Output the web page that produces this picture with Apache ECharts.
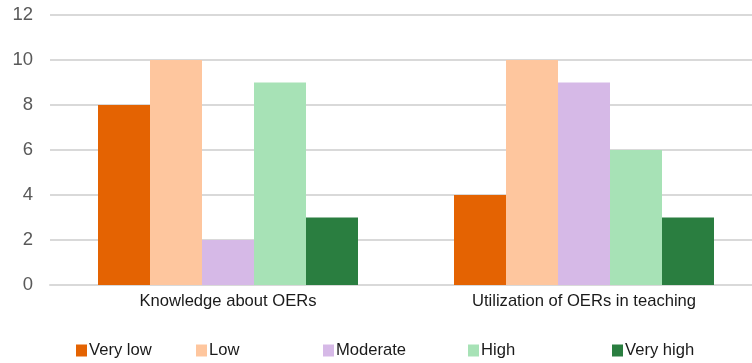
<!DOCTYPE html>
<html>
<head>
<meta charset="utf-8">
<script src="https://cdn.jsdelivr.net/npm/echarts@6/dist/echarts.min.js"></script>
<style>
  html, body { margin: 0; padding: 0; background: #fff; }
  #chart { width: 752px; height: 363px; }
</style>
</head>
<body>
<div id="chart"></div>
<script>
// Survey results: self-rated level of OER knowledge and use
const categories = ['Knowledge about OERs', 'Utilization of OERs in teaching'];
const levels = ['Very low', 'Low', 'Moderate', 'High', 'Very high'];
const veryLow = [8, 4];
const low = [10, 10];
const moderate = [2, 9];
const high = [9, 6];
const veryHigh = [3, 3];
const yTicks = [0, 2, 4, 6, 8, 10, 12];

const seriesValues = [veryLow, low, moderate, high, veryHigh];
const colors = ['#E46302', '#FEC69E', '#D6B9E7', '#A7E2B6', '#2A7E40'];
const legendLeft = [71, 191, 318, 463, 607];

const chart = echarts.init(document.getElementById('chart'));
chart.setOption({
  animation: false,
  textStyle: { fontFamily: 'Liberation Sans, Arial, sans-serif' },
  grid: {
    left: 50, width: 712, top: 15, bottom: 78,
    containLabel: false, outerBoundsMode: 'none'
  },
  xAxis: {
    type: 'category',
    data: categories,
    axisLine: { lineStyle: { color: '#D9D9D9', width: 2 } },
    axisTick: { show: false },
    axisLabel: { color: '#1a1a1a', fontSize: 16.6, margin: 8 }
  },
  yAxis: {
    type: 'value',
    min: yTicks[0],
    max: yTicks[yTicks.length - 1],
    interval: 2,
    axisLine: { show: false },
    axisTick: { show: false },
    axisLabel: { color: '#595959', fontSize: 18.5, margin: 17 },
    splitLine: { lineStyle: { color: '#D9D9D9', width: 2 } }
  },
  legend: levels.map((name, i) => ({
    data: [name],
    left: legendLeft[i],
    top: 337,
    itemWidth: 11,
    itemHeight: 12,
    itemGap: 2,
    icon: 'rect',
    textStyle: { color: '#1a1a1a', fontSize: 16.6, padding: [0, 0, 0, -3] },
    selectedMode: false
  })),
  series: levels.map((name, i) => ({
    name: name,
    type: 'bar',
    data: seriesValues[i],
    barWidth: 52,
    barGap: '0%',
    itemStyle: { color: colors[i] }
  }))
});
</script>
</body>
</html>
